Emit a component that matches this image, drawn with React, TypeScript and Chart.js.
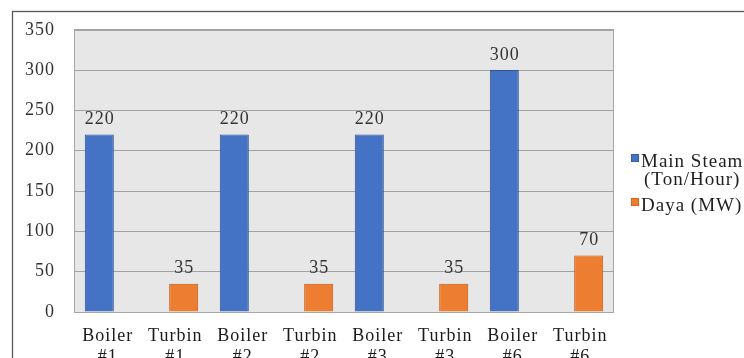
import React, { useEffect, useRef } from "react";
import { Chart, registerables } from "chart.js";

Chart.register(...registerables);

const categories: string[][] = [
  ["Boiler", "#1"], ["Turbin", "#1"],
  ["Boiler", "#2"], ["Turbin", "#2"],
  ["Boiler", "#3"], ["Turbin", "#3"],
  ["Boiler", "#6"], ["Turbin", "#6"],
];
const mainSteam: (number | null)[] = [220, null, 220, null, 220, null, 300, null];
const daya: (number | null)[] = [null, 35, null, 35, null, 35, null, 70];
const seriesLegend: string[][] = [["Main Steam", "(Ton/Hour)"], ["Daya (MW)"]];
const yMin = 0;
const yMax = 350;
const yStep = 50;

const FONT = "'Liberation Serif', 'Times New Roman', serif";
const BLUE = "#4472C4";
const ORANGE = "#ED7D31";

const setSpacing = (chart: any) => {
  try { chart.ctx.letterSpacing = "1px"; } catch (e) {}
};

const framePlugin = {
  id: "frame",
  beforeUpdate(chart: any) { setSpacing(chart); },
  beforeLayout(chart: any) { setSpacing(chart); },
  beforeDraw(chart: any) {
    setSpacing(chart);
    const { ctx, chartArea } = chart;
    ctx.save();
    ctx.fillStyle = "#ffffff";
    ctx.fillRect(0, 0, chart.width, chart.height);
    ctx.strokeStyle = "#595959";
    ctx.lineWidth = 1.3;
    ctx.strokeRect(12.5, 11.5, chart.width + 50, chart.height + 50);
    ctx.fillStyle = "#E7E7E7";
    ctx.fillRect(chartArea.left, chartArea.top, chartArea.right - chartArea.left, chartArea.bottom - chartArea.top);
    ctx.restore();
  },
  beforeDatasetsDraw(chart: any) {
    const { ctx, chartArea } = chart;
    ctx.save();
    ctx.strokeStyle = "#A6A6A6";
    ctx.lineWidth = 1;
    ctx.strokeRect(Math.round(chartArea.left) + 0.5, Math.round(chartArea.top) + 0.5,
      Math.round(chartArea.right - chartArea.left) - 1, Math.round(chartArea.bottom - chartArea.top));
    ctx.restore();
  },
  afterDatasetsDraw(chart: any) {
    const { ctx } = chart;
    ctx.save();
    ctx.font = `18px ${FONT}`;
    ctx.fillStyle = "#333333";
    ctx.textAlign = "center";
    ctx.textBaseline = "alphabetic";
    chart.data.datasets.forEach((ds: any, i: number) => {
      const meta = chart.getDatasetMeta(i);
      meta.data.forEach((el: any, j: number) => {
        const v = ds.data[j];
        if (v === null || v === undefined) return;
        ctx.fillText(String(v), el.x + 0.5, el.y - 10.5);
      });
    });
    ctx.restore();
  },
  afterDraw(chart: any) {
    const { ctx } = chart;
    ctx.save();
    ctx.font = `19px ${FONT}`;
    ctx.textBaseline = "alphabetic";
    const colors = [BLUE, ORANGE];
    const borders = ["#2F5597", "#C55A11"];
    const boxX = 631;
    const textX = 641;
    const baselines = [166.5, 210.5];
    seriesLegend.forEach((lines, i) => {
      const b = baselines[i];
      ctx.fillStyle = colors[i];
      ctx.fillRect(boxX, b - 12.5, 8, 8);
      ctx.strokeStyle = borders[i];
      ctx.lineWidth = 0.6;
      ctx.strokeRect(boxX + 0.3, b - 12.2, 7.4, 7.4);
      ctx.fillStyle = "#1f1f1f";
      const w0 = ctx.measureText(lines[0]).width;
      ctx.textAlign = "left";
      ctx.fillText(lines[0], textX, b);
      for (let k = 1; k < lines.length; k++) {
        ctx.textAlign = "center";
        ctx.fillText(lines[k], textX + w0 / 2, b + 18 * k);
      }
    });
    ctx.restore();
  },
};

export default function App() {
  const ref = useRef<HTMLCanvasElement | null>(null);
  useEffect(() => {
    if (!ref.current) return;
    const chart = new Chart(ref.current, {
      type: "bar",
      data: {
        labels: categories,
        datasets: [
          {
            label: seriesLegend[0].join(" "),
            data: mainSteam,
            backgroundColor: BLUE,
            borderColor: "#2F5597",
            borderWidth: 1,
            categoryPercentage: 0.5,
            barPercentage: 1.72,
          },
          {
            label: seriesLegend[1].join(" "),
            data: daya,
            backgroundColor: ORANGE,
            borderColor: "#C55A11",
            borderWidth: 1,
            categoryPercentage: 0.5,
            barPercentage: 1.72,
          },
        ],
      },
      options: {
        responsive: false,
        animation: false,
        devicePixelRatio: 1,
        layout: { padding: { left: 0, right: 130, top: 29, bottom: 0 } },
        plugins: {
          legend: { display: false },
          tooltip: { enabled: false },
        },
        scales: {
          x: {
            grid: { display: false, drawTicks: false },
            border: { display: false },
            ticks: {
              color: "#1a1a1a",
              font: { family: FONT, size: 18, lineHeight: 1.2 },
              padding: 13,
              maxRotation: 0,
              autoSkip: false,
            },
            afterFit(scale: any) { scale.height = 46; },
          },
          y: {
            min: yMin,
            max: yMax,
            grid: { color: "#A3A3A3", lineWidth: 1, drawTicks: false },
            border: { display: false },
            ticks: {
              stepSize: yStep,
              color: "#333333",
              font: { family: FONT, size: 18 },
              padding: 19,
            },
            afterFit(scale: any) { scale.width = 74; },
          },
        },
      },
      plugins: [framePlugin],
    });
    return () => chart.destroy();
  }, []);
  return (
    <div style={{ position: "fixed", left: 0, top: 0, width: 744, height: 358, overflow: "hidden", background: "#fff" }}>
      <canvas ref={ref} width={744} height={358} style={{ display: "block", width: 744, height: 358 }} />
    </div>
  );
}
